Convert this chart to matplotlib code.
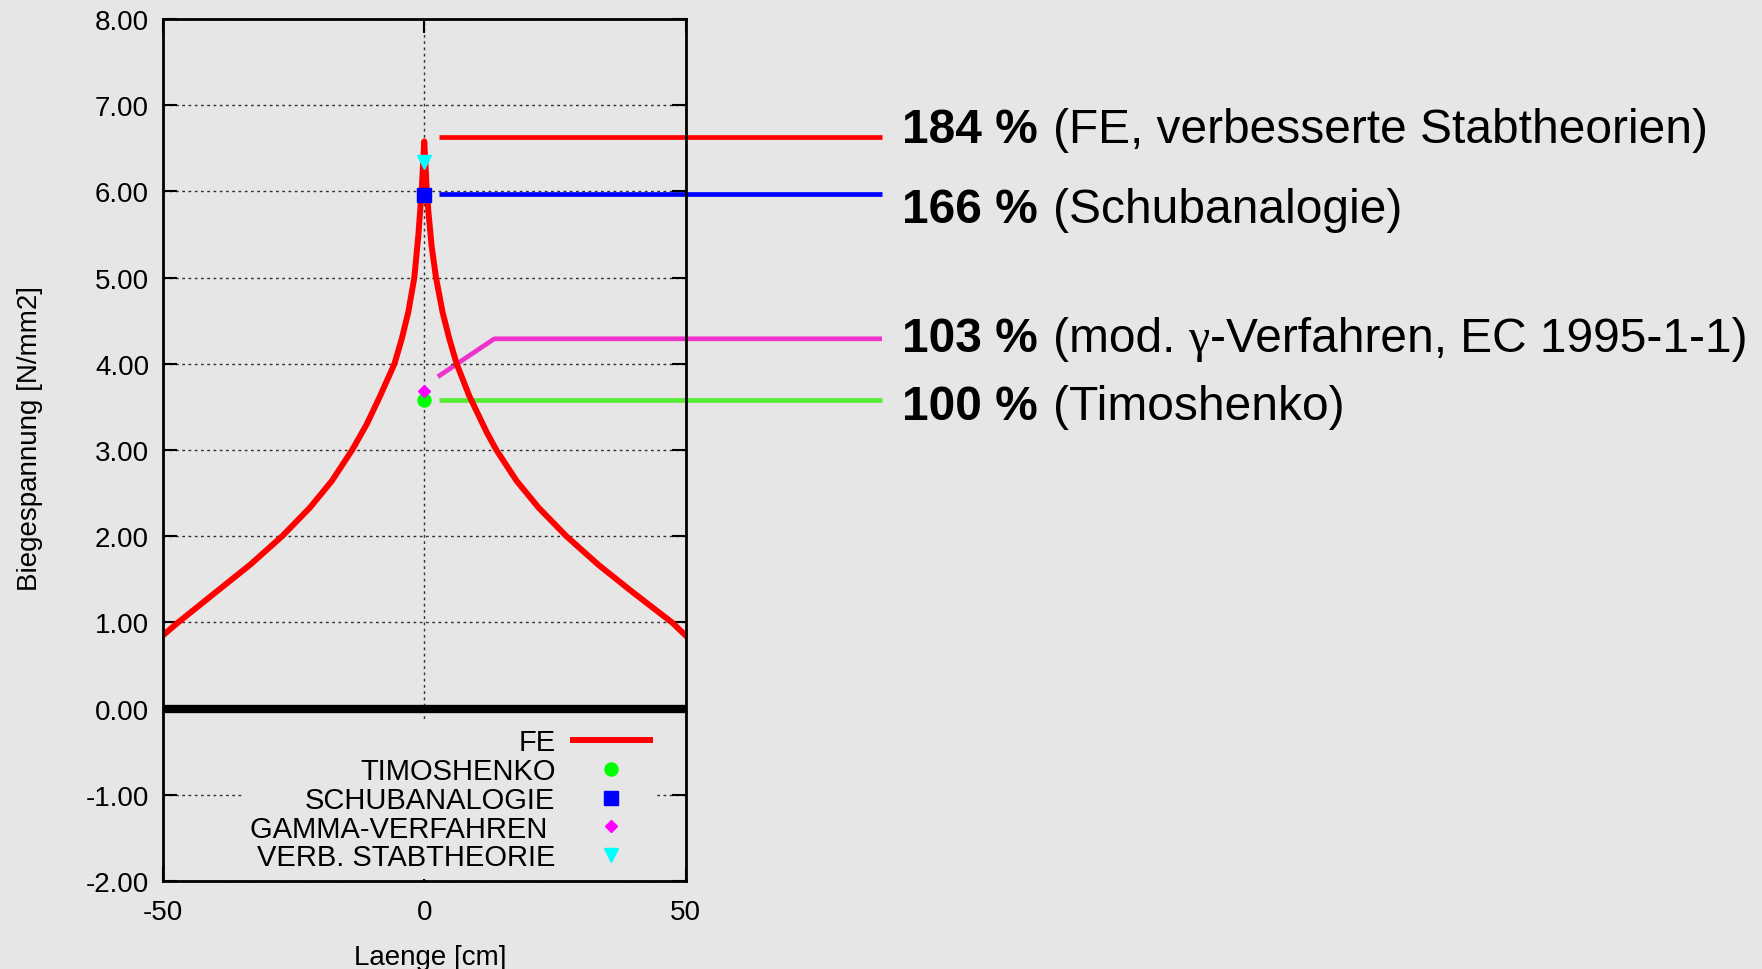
import matplotlib
matplotlib.use("Agg")
import matplotlib.pyplot as plt
from matplotlib.ticker import FormatStrFormatter

plt.rcParams['font.family'] = ['Liberation Sans', 'DejaVu Sans']
plt.rcParams['axes.unicode_minus'] = False

BG = '#e6e6e6'

# FE-Verlauf der Biegespannung entlang der Laenge
fe_x = [-50, -47.1, -39.7, -33.3, -27.2, -21.9, -17.7, -13.8, -11.0, -8.5, -5.7, -4.3, -3.05,
        -1.9, -1.13, -0.8, -0.45, -0.2, 0,
        0.2, 0.45, 0.8, 1.4, 2.25, 3.5, 4.8, 6.2, 8.6, 12.0, 13.8, 17.7, 21.9, 27.2, 33.3,
        39.7, 47.4, 50]
fe_y = [0.85, 1.0, 1.36, 1.67, 2.0, 2.33, 2.64, 3.0, 3.3, 3.62, 4.0, 4.29, 4.6,
        5.0, 5.49, 5.76, 6.05, 6.35, 6.58,
        6.35, 6.05, 5.76, 5.37, 5.0, 4.6, 4.29, 4.0, 3.63, 3.2, 3.0, 2.64, 2.33, 2.0, 1.67,
        1.36, 1.0, 0.85]

# Einzelwerte in Feldmitte
timo_x, timo_y = [0], [3.58]
schub_x, schub_y = [0], [5.96]
gamma_x, gamma_y = [0], [3.69]
verb_x, verb_y = [0], [6.34]

# Hinweislinien und Prozentangaben (Textteile: Text, fett?, Schrift)
note_parts = [
    [('184 %', True, 'Liberation Sans'), ('(FE, verbesserte Stabtheorien)', False, 'Liberation Sans')],
    [('166 %', True, 'Liberation Sans'), ('(Schubanalogie)', False, 'Liberation Sans')],
    [('103 %', True, 'Liberation Sans'), ('(mod.', False, 'Liberation Sans'),
     ('\u03b3', False, 'Liberation Serif'), ('-Verfahren, EC 1995-1-1)', False, 'Liberation Sans')],
    [('100 %', True, 'Liberation Sans'), ('(Timoshenko)', False, 'Liberation Sans')],
]
note_gaps = [[11], [11], [11, 9.5, 0.5], [11]]
note_y = [6.573, 5.644, 4.153, 3.364]
note_colors = ['#ff0000', '#0000ff', '#ee33cc', '#55ee33']
note_line_x = [[2.8, 87.6], [2.8, 87.6], [2.6, 13.4, 87.6], [2.8, 87.6]]
note_line_y = [[6.63, 6.63], [5.97, 5.97], [3.85, 4.29, 4.29], [3.58, 3.58]]

fig = plt.figure(figsize=(17.62, 9.70), dpi=100, facecolor=BG)
ax = fig.add_axes([163 / 1762, 1 - 882 / 970, 522.5 / 1762, 862 / 970])
ax.set_facecolor(BG)

ax.set_xlim(-50, 50)
ax.set_ylim(-2, 8)
ax.set_xticks([-50, 0, 50])
ax.set_yticks(range(-2, 9))
ax.yaxis.set_major_formatter(FormatStrFormatter('%.2f'))
ax.tick_params(direction='in', length=10, width=1.5, labelsize=20,
               top=True, right=True)
ax.tick_params(axis='y', pad=10)
ax.tick_params(axis='x', pad=13)
for s in ax.spines.values():
    s.set_linewidth(2)
    s.set_zorder(7)

ax.grid(True, color='#333333', linestyle=(0, (2, 2.5)), linewidth=1)
ax.axhline(0, color='black', linewidth=6, zorder=6)

for lx, ly, c in zip(note_line_x, note_line_y, note_colors):
    ax.plot(lx, ly, color=c, linewidth=3.4, clip_on=False, zorder=1.5,
            solid_capstyle='butt')

ax.plot(fe_x, fe_y, color='#ff0000', linewidth=4.3, label='FE', zorder=3,
        solid_joinstyle='round')
ax.plot(timo_x, timo_y, 'o', color='#00ff00', markersize=9.4, label='TIMOSHENKO', zorder=4)
ax.plot(schub_x, schub_y, 's', color='#0000ff', markersize=9.4, label='SCHUBANALOGIE', zorder=4)
ax.plot(gamma_x, gamma_y, 'D', color='#ff00ff', markersize=6.4, label='GAMMA-VERFAHREN ', zorder=4)
ax.plot(verb_x, verb_y, 'v', color='#00ffff', markersize=9.4, label='VERB. STABTHEORIE', zorder=4)

leg = ax.legend(loc='lower right', bbox_to_anchor=(0.946, 0.0026), markerfirst=False,
                fontsize=21, handlelength=2.64, handletextpad=0.6, labelspacing=0.03,
                borderpad=0.25, borderaxespad=0, frameon=True, fancybox=False,
                facecolor=BG, edgecolor='none', framealpha=1)

ax.set_xlabel('Laenge [cm]', fontsize=20)
ax.set_ylabel('Biegespannung [N/mm2]', fontsize=20)
ax.xaxis.set_label_coords(0.511, -0.073)
ax.yaxis.set_label_coords(-0.229, 0.514)

# Prozentangaben rechts neben dem Diagramm, Teil fuer Teil aneinandergereiht
for parts, gaps, y in zip(note_parts, note_gaps, note_y):
    txt, bold, fam = parts[0]
    prev = ax.text(91.4, y, txt, fontsize=34.5, fontweight='bold' if bold else 'normal',
                   family=fam, ha='left', va='baseline', clip_on=False)
    for (txt, bold, fam), gap in zip(parts[1:], gaps):
        prev = ax.annotate(txt, xy=(1, 0), xycoords=prev, xytext=(gap, 0),
                           textcoords='offset points', fontsize=34.5,
                           fontweight='bold' if bold else 'normal', family=fam,
                           ha='left', va='bottom', annotation_clip=False)

fig.savefig('out.png', dpi=100, facecolor=BG)
